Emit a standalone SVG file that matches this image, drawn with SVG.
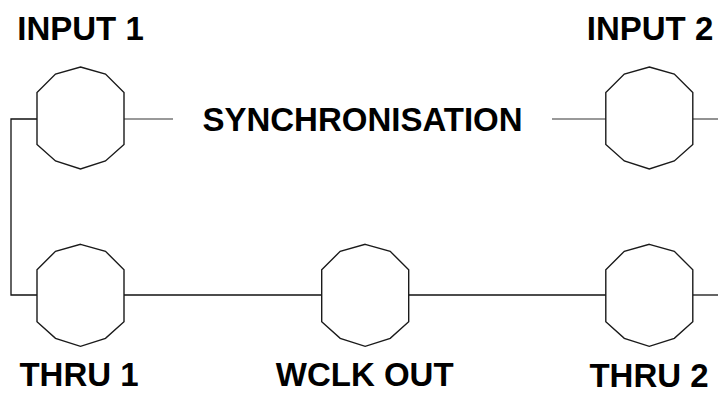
<svg xmlns="http://www.w3.org/2000/svg" width="718" height="394" viewBox="0 0 718 394">
<style>
.lbl{font-family:"Liberation Sans",Arial,sans-serif;font-weight:bold;font-size:33px;fill:#000;text-anchor:middle}
.node{fill:#fff;stroke:#1a1a1a;stroke-width:1.4}
.w{fill:none;stroke:#111;stroke-width:1.3}
.g{fill:none;stroke:#777;stroke-width:1.6}
</style>
<defs>
<polygon id="dec" points="0,-51 25,-44 43.5,-25.5 43.5,26.5 25,43 0,51 -25,43 -43.5,26.5 -43.5,-25.5 -25,-44"/>
</defs>
<g id="connectors">
<polyline class="w" points="37,119 11,119 11,295 37,295"/>
<line class="g" x1="124" y1="119" x2="173" y2="119"/>
<line class="g" x1="552" y1="119" x2="606" y2="119"/>
<line class="g" x1="693" y1="119" x2="718" y2="119"/>
<line class="w" x1="124" y1="295" x2="322" y2="295"/>
<line class="w" x1="409" y1="295" x2="606" y2="295"/>
<line class="w" x1="693" y1="295" x2="718" y2="295"/>
</g>
<g id="input1"><use href="#dec" class="node" x="80.5" y="118"/><text class="lbl" x="80.5" y="40">INPUT 1</text></g>
<g id="input2"><use href="#dec" class="node" x="649.3" y="118"/><text class="lbl" x="650" y="40">INPUT 2</text></g>
<g id="thru1"><use href="#dec" class="node" x="80.5" y="295.3"/><text class="lbl" x="79" y="386">THRU 1</text></g>
<g id="wclk"><use href="#dec" class="node" x="365.2" y="295.3"/><text class="lbl" x="364.7" y="386">WCLK OUT</text></g>
<g id="thru2"><use href="#dec" class="node" x="649.3" y="295.3"/><text class="lbl" x="649" y="387">THRU 2</text></g>
<text id="sync" class="lbl" x="362.5" y="131">SYNCHRONISATION</text>
</svg>
